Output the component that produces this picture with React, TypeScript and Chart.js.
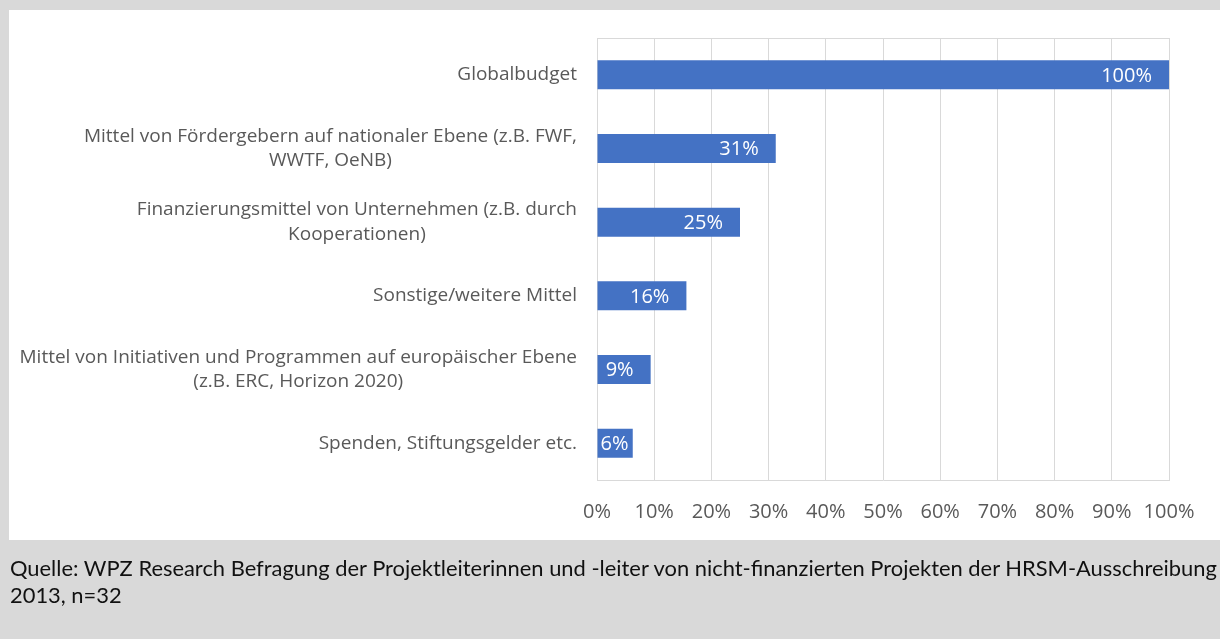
import React, { useEffect, useRef } from "react";
import { Chart, registerables } from "chart.js";

Chart.register(...registerables);

const categories: string[][] = [
  ["Globalbudget"],
  ["Mittel von Fördergebern auf nationaler Ebene (z.B. FWF,", "WWTF, OeNB)"],
  ["Finanzierungsmittel von Unternehmen (z.B. durch", "Kooperationen)"],
  ["Sonstige/weitere Mittel"],
  ["Mittel von Initiativen und Programmen auf europäischer Ebene", "(z.B. ERC, Horizon 2020)"],
  ["Spenden, Stiftungsgelder etc."],
];
const values: number[] = [100, 31.25, 25, 15.63, 9.38, 6.25];
const valueLabels: string[] = ["100%", "31%", "25%", "16%", "9%", "6%"];
const captionLines: string[] = [
  "Quelle: WPZ Research Befragung der Projektleiterinnen und -leiter von nicht-finanzierten Projekten der HRSM-Ausschreibung",
  "2013, n=32",
];

const FONT = "'Open Sans', 'Noto Sans', sans-serif";

const customDraw = {
  id: "customDraw",
  beforeDatasetsDraw(chart: any) {
    const { ctx, chartArea } = chart;
    ctx.save();
    ctx.strokeStyle = "#d9d9d9";
    ctx.lineWidth = 1;
    ctx.beginPath();
    ctx.moveTo(chartArea.left, chartArea.top + 0.5);
    ctx.lineTo(chartArea.right, chartArea.top + 0.5);
    ctx.stroke();
    ctx.restore();
  },
  afterDatasetsDraw(chart: any) {
    const { ctx, chartArea } = chart;
    const yScale = chart.scales.y;
    const meta = chart.getDatasetMeta(0);
    ctx.save();
    ctx.font = `19px ${FONT}`;
    ctx.fillStyle = "#595959";
    ctx.textAlign = "center";
    ctx.textBaseline = "middle";
    const rightEdge = chartArea.left - 20;
    const lh = 24.5;
    categories.forEach((lines, i) => {
      const cy = yScale.getPixelForValue(i);
      const maxW = Math.max(...lines.map((l) => ctx.measureText(l).width));
      const cx = rightEdge - maxW / 2;
      const startY = cy - ((lines.length - 1) * lh) / 2;
      lines.forEach((l, j) => ctx.fillText(l, cx, startY + j * lh));
    });
    ctx.font = `20px ${FONT}`;
    ctx.fillStyle = "#ffffff";
    ctx.textAlign = "left";
    meta.data.forEach((bar: any, i: number) => {
      const txt = valueLabels[i];
      const w = ctx.measureText(txt).width;
      const x = Math.max(bar.x - 17 - w, bar.base + 3);
      ctx.fillText(txt, x, bar.y + 1);
    });
    ctx.restore();
  },
};

function BarChart() {
  const ref = useRef<HTMLCanvasElement>(null);
  useEffect(() => {
    if (!ref.current) return;
    const chart = new Chart(ref.current, {
      type: "bar",
      data: {
        labels: categories.map((c) => c.join(" ")),
        datasets: [
          {
            data: values,
            backgroundColor: "#4472c4",
            borderWidth: 0,
            categoryPercentage: 1,
            barPercentage: 0.394,
          },
        ],
      },
      options: {
        indexAxis: "y",
        responsive: false,
        animation: false,
        devicePixelRatio: 1,
        layout: { padding: { left: 580, right: 51, top: 28, bottom: 14 } },
        plugins: {
          legend: { display: false },
          tooltip: { enabled: false },
        },
        scales: {
          x: {
            min: 0,
            max: 100,
            ticks: {
              stepSize: 10,
              callback: (v: any) => `${v}%`,
              color: "#595959",
              font: { family: FONT, size: 20 },
              padding: 20,
              maxRotation: 0,
              autoSkip: false,
            },
            grid: { color: "#d9d9d9", lineWidth: 1, drawTicks: false },
            border: { display: true, color: "#d9d9d9" },
          },
          y: {
            ticks: { display: false },
            grid: { display: false },
            border: { display: true, color: "#d9d9d9" },
          },
        },
      },
      plugins: [customDraw],
    });
    return () => chart.destroy();
  }, []);
  return <canvas ref={ref} width={1211} height={548} style={{ display: "block" }} />;
}

export default function App() {
  return (
    <div
      style={{
        position: "fixed",
        left: 0,
        top: 0,
        width: 1220,
        height: 639,
        background: "#d9d9d9",
        overflow: "hidden",
      }}
    >
      <div
        style={{
          position: "absolute",
          left: 9,
          top: 10,
          width: 1211,
          height: 530,
          background: "#ffffff",
        }}
      />
      <div style={{ position: "absolute", left: 9, top: 10 }}>
        <BarChart />
      </div>
      <div
        style={{
          position: "absolute",
          left: 10,
          top: 554,
          fontFamily: "Lato, 'Liberation Sans', sans-serif",
          fontSize: 21.9,
          lineHeight: "27px",
          color: "#111111",
          whiteSpace: "nowrap",
        }}
      >
        {captionLines.map((l, i) => (
          <div key={i}>{l}</div>
        ))}
      </div>
    </div>
  );
}
